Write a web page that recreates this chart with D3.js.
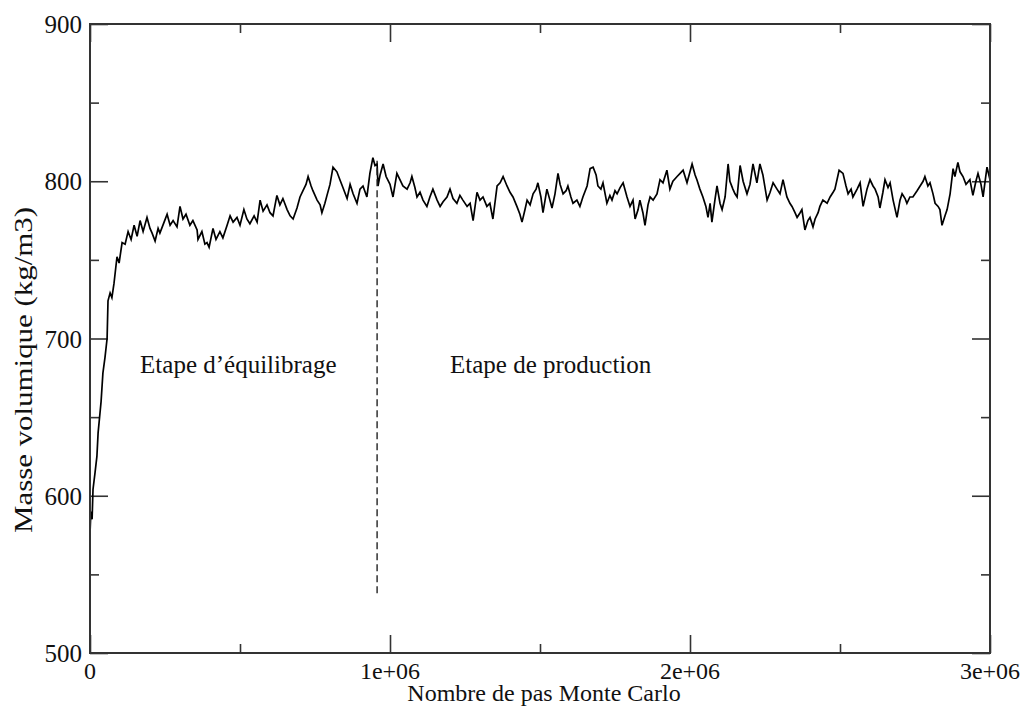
<!DOCTYPE html>
<html>
<head>
<meta charset="utf-8">
<script src="https://cdn.jsdelivr.net/npm/d3@7"></script>
<style>
  html, body { margin: 0; padding: 0; background: #fff; }
  svg text { font-family: "Liberation Serif", "Times New Roman", serif; fill: #111; }
</style>
</head>
<body>
<svg id="chart" width="1025" height="711"></svg>
<script>
// ---- data ----
const steps = [0,3000,7000,10000,17000,23000,27000,33000,37000,43000,50000,57000,60000,67000,73000,80000,90000,97000,107000,117000,127000,137000,147000,157000,167000,177000,190000,200000,207000,217000,227000,233000,247000,257000,267000,277000,290000,300000,310000,320000,333000,343000,357000,360000,373000,383000,390000,397000,410000,420000,433000,443000,457000,467000,477000,490000,500000,513000,523000,533000,547000,557000,567000,577000,590000,600000,610000,623000,633000,643000,657000,667000,677000,690000,700000,710000,720000,727000,737000,743000,757000,767000,773000,783000,790000,800000,810000,823000,833000,843000,857000,867000,877000,890000,900000,910000,923000,933000,943000,950000,957000,960000,967000,977000,987000,1000000,1010000,1023000,1033000,1043000,1057000,1067000,1073000,1083000,1090000,1100000,1110000,1123000,1133000,1143000,1157000,1167000,1177000,1190000,1200000,1210000,1223000,1233000,1243000,1257000,1267000,1277000,1290000,1300000,1310000,1323000,1333000,1343000,1357000,1367000,1377000,1390000,1400000,1410000,1423000,1433000,1440000,1450000,1457000,1467000,1477000,1487000,1493000,1503000,1510000,1523000,1533000,1540000,1550000,1560000,1567000,1577000,1587000,1593000,1603000,1610000,1623000,1633000,1643000,1657000,1667000,1677000,1687000,1693000,1703000,1710000,1723000,1733000,1740000,1750000,1757000,1767000,1777000,1790000,1800000,1810000,1817000,1827000,1833000,1843000,1850000,1860000,1867000,1877000,1890000,1900000,1910000,1923000,1933000,1943000,1957000,1967000,1977000,1990000,2000000,2007000,2017000,2023000,2033000,2043000,2053000,2060000,2067000,2073000,2083000,2090000,2100000,2107000,2117000,2127000,2133000,2143000,2150000,2157000,2167000,2177000,2190000,2200000,2210000,2223000,2233000,2243000,2257000,2267000,2277000,2290000,2300000,2310000,2323000,2333000,2340000,2350000,2357000,2367000,2373000,2383000,2393000,2400000,2410000,2417000,2427000,2433000,2443000,2457000,2467000,2477000,2483000,2497000,2510000,2520000,2527000,2537000,2543000,2557000,2567000,2577000,2590000,2600000,2610000,2617000,2627000,2633000,2643000,2650000,2660000,2667000,2677000,2690000,2700000,2707000,2717000,2723000,2733000,2743000,2757000,2767000,2777000,2783000,2793000,2800000,2810000,2817000,2827000,2833000,2840000,2850000,2857000,2867000,2877000,2883000,2893000,2900000,2910000,2920000,2933000,2943000,2953000,2960000,2970000,2977000,2983000,2990000,3000000];
const density = [576,590,585,604,615,625,640,652,660,678,688,700,724,729,726,735,752,748,761,760,768,763,772,765,775,768,777,770,767,762,770,767,774,779,772,775,771,784,776,779,772,775,769,763,768,760,761,758,770,763,768,764,772,778,774,777,772,782,776,773,778,774,788,781,785,780,778,791,785,789,782,778,776,783,790,794,798,803,797,794,788,785,780,786,791,798,809,806,801,796,789,798,792,786,795,797,790,805,815,810,811,797,804,811,803,798,790,805,801,797,795,799,803,796,790,793,788,784,790,795,788,784,787,790,795,789,786,791,788,784,786,775,793,788,790,784,786,776,797,799,803,797,793,790,784,779,774,782,788,785,792,795,799,790,780,795,788,783,792,805,798,792,794,797,790,786,788,784,790,797,808,809,804,797,795,799,786,791,788,794,792,796,799,790,784,788,776,782,788,780,772,785,790,788,792,801,799,807,795,800,803,805,807,799,806,811,804,801,795,790,784,777,786,774,788,797,786,782,790,811,800,795,792,790,810,800,792,798,811,799,811,804,788,793,799,795,792,801,790,786,784,780,777,780,782,769,775,777,771,776,780,784,788,786,790,793,795,807,805,797,792,795,790,795,799,784,795,801,797,795,790,783,793,801,796,799,788,777,788,792,789,786,790,790,794,797,800,803,797,799,792,786,784,782,772,778,782,792,808,803,812,806,803,798,801,791,800,805,798,790,799,809,801];

const xMajorTicks = [0, 1000000, 2000000, 3000000];
const xTickLabels = ["0", "1e+06", "2e+06", "3e+06"];
const xMinorTicks = [500000, 1500000, 2500000];
const yMajorTicks = [500, 600, 700, 800, 900];
const yTickLabels = ["500", "600", "700", "800", "900"];
const yMinorTicks = [550, 650, 750, 850];

const dividerStep = [957000];
const dividerRange = [538, 813];

const phaseLabels = ["Etape d\u2019\u00e9quilibrage", "Etape de production"];
const phaseLabelSteps = [167000, 1200000];
const phaseLabelValue = [678, 678];

const xTitle = "Nombre de pas Monte Carlo";
const yTitle = "Masse volumique (kg/m3)";

// ---- layout ----
const L = 90, R = 990, T = 24, B = 653;
const svg = d3.select("#chart");

const x = d3.scaleLinear().domain([0, 3000000]).range([L, R]);
const y = d3.scaleLinear().domain([500, 900]).range([B, T]);

const axisColor = "#333";
const majorLen = 18, minorLen = 9;

// ticks on all four sides, pointing inward
function drawTicks() {
  const g = svg.append("g");
  const defs = [
    [d3.axisBottom(x).tickValues(xMajorTicks).tickSize(-majorLen), `translate(0,${B})`],
    [d3.axisBottom(x).tickValues(xMinorTicks).tickSize(-minorLen), `translate(0,${B})`],
    [d3.axisTop(x).tickValues(xMajorTicks).tickSize(-majorLen), `translate(0,${T})`],
    [d3.axisTop(x).tickValues(xMinorTicks).tickSize(-minorLen), `translate(0,${T})`],
    [d3.axisLeft(y).tickValues(yMajorTicks).tickSize(-majorLen), `translate(${L},0)`],
    [d3.axisLeft(y).tickValues(yMinorTicks).tickSize(-minorLen), `translate(${L},0)`],
    [d3.axisRight(y).tickValues(yMajorTicks).tickSize(-majorLen), `translate(${R},0)`],
    [d3.axisRight(y).tickValues(yMinorTicks).tickSize(-minorLen), `translate(${R},0)`]
  ];
  defs.forEach(([ax, tr]) => {
    const a = g.append("g").attr("transform", tr).call(ax.tickFormat(""));
    a.select(".domain").remove();
    a.selectAll("line").attr("stroke", axisColor).attr("stroke-width", 1.6);
  });
}
drawTicks();

// data line
const pts = steps.map((s, i) => [s, density[i]]);
svg.append("path")
  .datum(pts)
  .attr("fill", "none")
  .attr("stroke", "#000")
  .attr("stroke-width", 1.7)
  .attr("stroke-linejoin", "miter")
  .attr("d", d3.line().x(d => x(d[0])).y(d => y(d[1])));

// dashed divider
svg.append("line")
  .attr("x1", x(dividerStep[0])).attr("x2", x(dividerStep[0]))
  .attr("y1", y(dividerRange[0])).attr("y2", y(dividerRange[1]))
  .attr("stroke", "#222").attr("stroke-width", 1.4)
  .attr("stroke-dasharray", "7,4");

// frame
svg.append("rect")
  .attr("x", L).attr("y", T).attr("width", R - L).attr("height", B - T)
  .attr("fill", "none").attr("stroke", axisColor).attr("stroke-width", 2);

// tick labels
svg.selectAll(".xl").data(xMajorTicks).enter().append("text")
  .attr("x", d => x(d)).attr("y", 679)
  .attr("text-anchor", "middle").attr("font-size", 24)
  .text((d, i) => xTickLabels[i]);
svg.selectAll(".yl").data(yMajorTicks).enter().append("text")
  .attr("x", 82).attr("y", d => y(d) + 9)
  .attr("text-anchor", "end").attr("font-size", 25)
  .text((d, i) => yTickLabels[i]);

// axis titles
svg.append("text")
  .attr("x", 544).attr("y", 701)
  .attr("text-anchor", "middle").attr("font-size", 24)
  .text(xTitle);
svg.append("text")
  .attr("transform", "translate(32,370) rotate(-90)")
  .attr("text-anchor", "middle").attr("font-size", 25)
  .attr("textLength", 326).attr("lengthAdjust", "spacingAndGlyphs")
  .text(yTitle);

// phase annotations
svg.selectAll(".pl").data(phaseLabels).enter().append("text")
  .attr("x", (d, i) => x(phaseLabelSteps[i]))
  .attr("y", (d, i) => y(phaseLabelValue[i]))
  .attr("font-size", 25)
  .text(d => d);
</script>
</body>
</html>
